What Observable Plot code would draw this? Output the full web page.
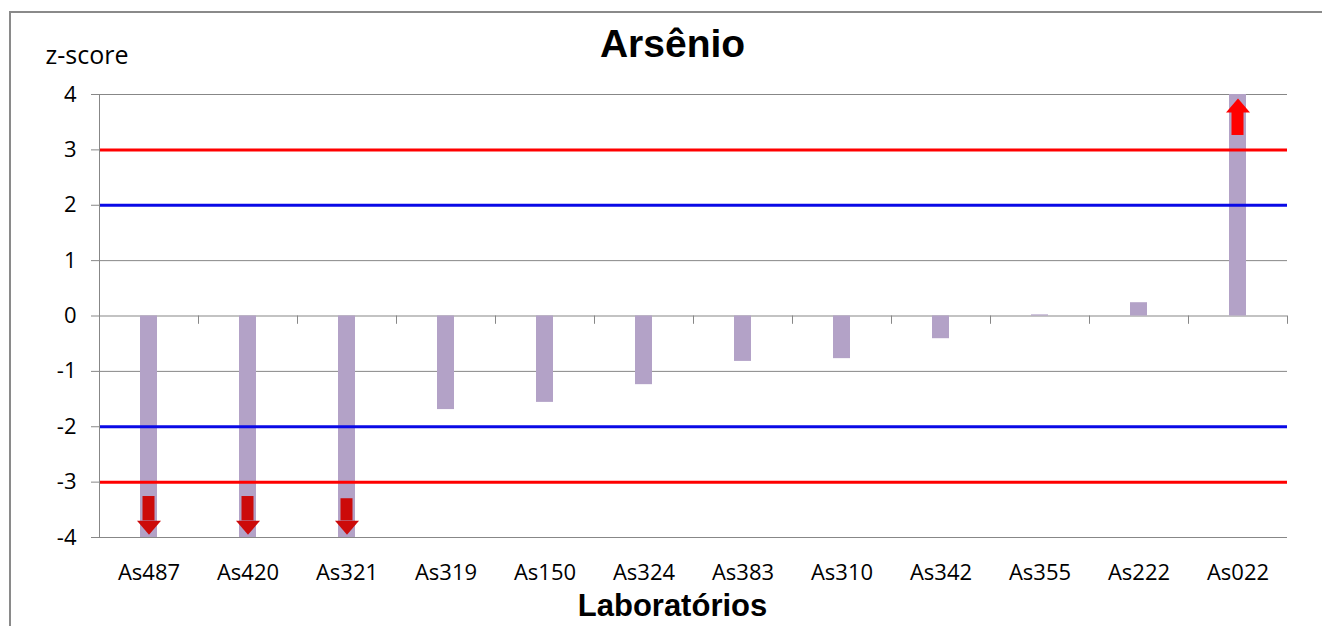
<!DOCTYPE html>
<html>
<head>
<meta charset="utf-8">
<script src="https://cdn.jsdelivr.net/npm/d3@7"></script>
<script src="https://cdn.jsdelivr.net/npm/@observablehq/plot@0.6"></script>
<style>
  html, body { margin: 0; padding: 0; background: #fff; overflow: hidden; }
  #wrap { position: relative; width: 1322px; height: 626px; overflow: hidden; }
  #border { position: absolute; left: 9px; top: 11px; width: 1400px; height: 700px; border: 2px solid #8a8a8a; box-sizing: border-box; }
  #chart { position: absolute; left: 0; top: 0; }
</style>
</head>
<body>
<div id="wrap"><div id="border"></div><div id="chart"></div></div>
<script>
// ---- data ----
const labs = ["As487","As420","As321","As319","As150","As324","As383","As310","As342","As355","As222","As022"];
const zscores = [-4, -4, -4, -1.69, -1.56, -1.24, -0.82, -0.77, -0.41, 0.02, 0.24, 4];
const yTicks = [-4, -3, -2, -1, 0, 1, 2, 3, 4];
const grayLines = [4, 1, 0, -1, -4];
const redLimits = [3, -3];
const blueLimits = [2, -2];
// out-of-range indicator arrows
const arrowLabs = ["As487", "As420", "As321", "As022"];
const arrowStart = [-3.26, -3.26, -3.30, 3.26];
const arrowBase = [-3.70, -3.70, -3.70, 3.68];
const arrowTip = [-3.95, -3.95, -3.95, 3.93];
const arrowColor = ["#cc0a0a", "#cc0a0a", "#cc0a0a", "#ff0000"];
const titleText = "Arsênio";
const xTitle = "Laboratórios";
const yTitle = "z-score";

const bars = labs.map((lab, i) => ({lab, z: zscores[i]}));
const arrows = arrowLabs.map((lab, i) => ({lab, start: arrowStart[i], base: arrowBase[i], tip: arrowTip[i], color: arrowColor[i], up: arrowTip[i] > 0}));

const W = 1322, H = 626, ML = 99, MR = 35, MT = 94, MB = 89;
const bw = (W - ML - MR) / labs.length;

const headSymbol = {
  draw(ctx) { ctx.moveTo(0, 0); ctx.lineTo(-12, -14); ctx.lineTo(12, -14); ctx.closePath(); }
};

const tickFont = "'Open Sans', sans-serif";
const chart = Plot.plot({
  width: W, height: H,
  marginLeft: ML, marginRight: MR, marginTop: MT, marginBottom: MB,
  style: {fontFamily: tickFont, fontSize: "22px", color: "#000", background: "transparent"},
  x: {domain: labs, padding: 0},
  y: {domain: [-4, 4]},
  color: {type: "identity"},
  marks: [
    Plot.ruleY(grayLines, {stroke: "#878787", strokeWidth: 1}),
    Plot.barY(bars, {x: "lab", y: "z", fill: "#b3a2c7", insetLeft: (bw - 17) / 2, insetRight: (bw - 17) / 2, clip: true}),
    Plot.ruleY(blueLimits, {stroke: "#0a0ae6", strokeWidth: 3}),
    Plot.ruleY(redLimits, {stroke: "#ff0000", strokeWidth: 3}),
    Plot.barY(arrows, {x: "lab", y1: "start", y2: "base", fill: "color", insetLeft: (bw - 12) / 2, insetRight: (bw - 12) / 2}),
    Plot.dot(arrows, {x: "lab", y: "tip", fill: "color", stroke: null, symbol: headSymbol, rotate: d => d.up ? 180 : 0}),
    Plot.frame({anchor: "left", stroke: "#878787"}),
    Plot.ruleX(labs, {x: d => d, dx: -bw / 2, y1: 0, y2: -0.15, stroke: "#878787"}),
    Plot.ruleX([labs[labs.length - 1]], {x: d => d, dx: bw / 2, y1: 0, y2: -0.15, stroke: "#878787"}),
    Plot.axisY(yTicks, {tickSize: 8, tickPadding: 15, stroke: "#878787", label: null, fontSize: 22, tickFormat: d => String(d)}),
    Plot.axisX({tickSize: 0, tickPadding: 27, label: null, fontSize: 22}),
    Plot.text([yTitle], {frameAnchor: "top-left", text: d => d, dx: -54, dy: -39, lineAnchor: "middle", textAnchor: "start", fontSize: 25}),
    Plot.text([titleText], {frameAnchor: "top", text: d => d, dx: -21, dy: -50, lineAnchor: "middle", fontSize: 39, fontWeight: "bold", fontFamily: "'Liberation Sans', Arial, sans-serif"}),
    Plot.text([xTitle], {frameAnchor: "bottom", text: d => d, dx: -21, dy: 69, lineAnchor: "middle", fontSize: 31, fontWeight: "bold", fontFamily: "'Liberation Sans', Arial, sans-serif"})
  ]
});
document.getElementById("chart").appendChild(chart);
</script>
</body>
</html>
